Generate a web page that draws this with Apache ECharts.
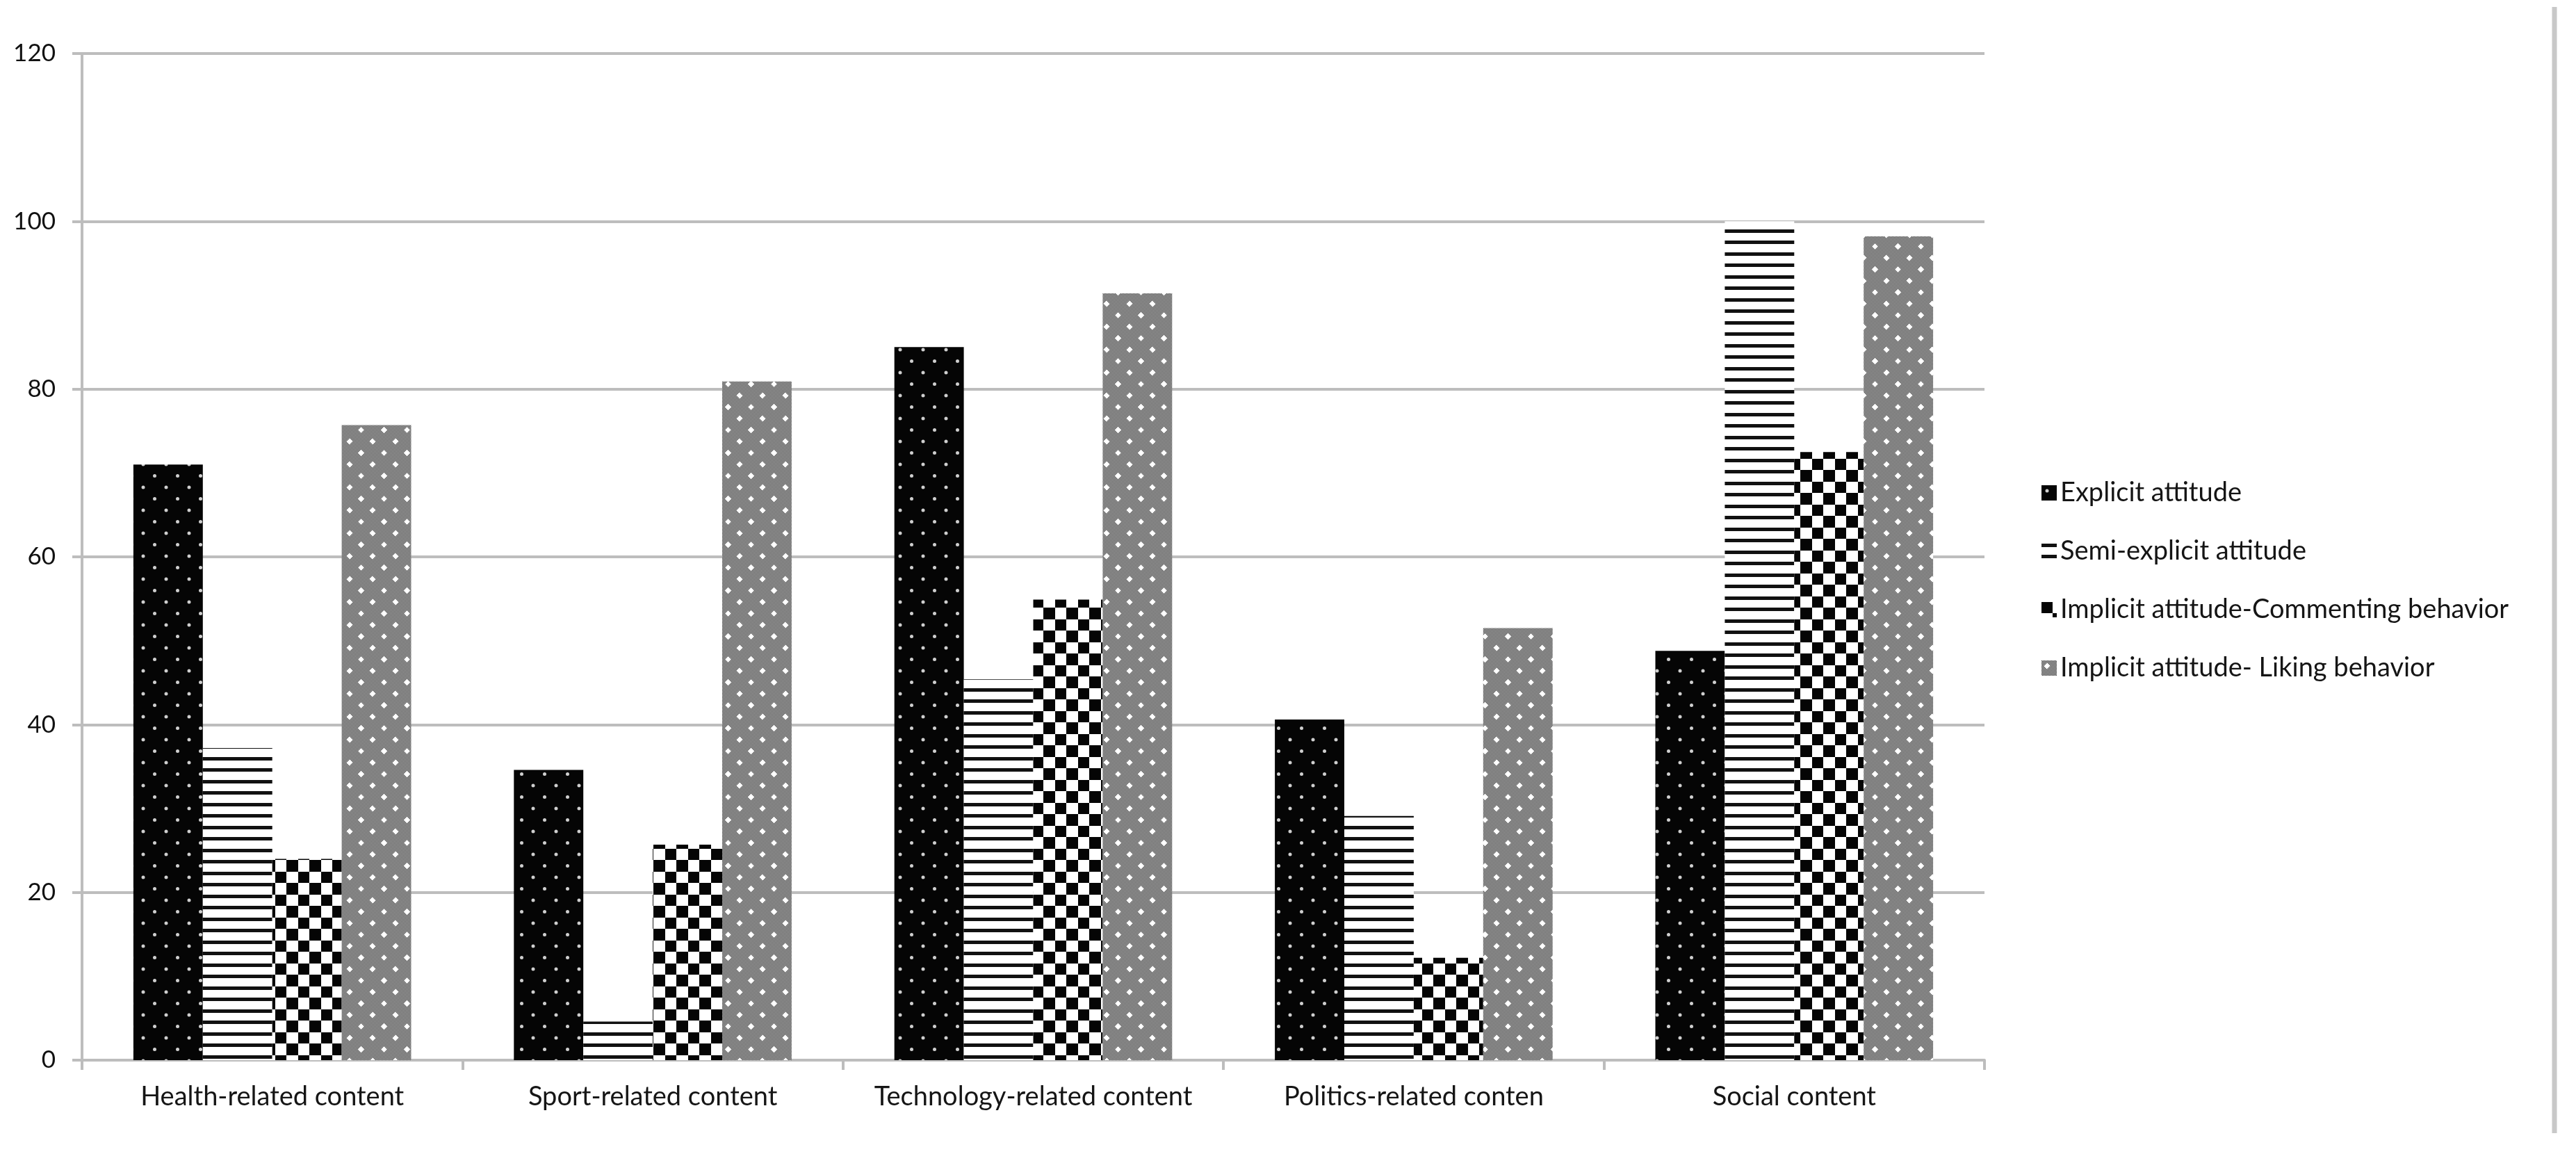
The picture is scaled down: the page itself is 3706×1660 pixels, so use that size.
<!DOCTYPE html>
<html>
<head>
<meta charset="utf-8">
<script src="https://cdn.jsdelivr.net/npm/echarts@6/dist/echarts.min.js"></script>
<style>
html,body{margin:0;padding:0;background:#ffffff;}
#chart{width:3706px;height:1660px;}
</style>
</head>
<body>
<div id="chart"></div>
<script>
// ---- data ----
const categories = ['Health-related content', 'Sport-related content', 'Technology-related content', 'Politics-related conten', 'Social content'];
const seriesNames = ['Explicit attitude', 'Semi-explicit attitude', 'Implicit attitude-Commenting behavior', 'Implicit attitude- Liking behavior'];
const explicitValues = [71.0, 34.6, 85.0, 40.6, 48.8];
const semiExplicitValues = [37.2, 4.6, 45.4, 29.1, 100.0];
const commentingValues = [24.0, 25.7, 54.9, 12.2, 72.5];
const likingValues = [75.7, 80.9, 91.4, 51.5, 98.2];
const yMin = 0, yMax = 120, yStep = 20;

// ---- fill patterns ----
function tile(w, h, draw) {
  const c = document.createElement('canvas');
  c.width = w; c.height = h;
  draw(c.getContext('2d'));
  return { image: c, repeat: 'repeat' };
}
const dotPattern = tile(33, 33, g => {
  g.fillStyle = '#050505'; g.fillRect(0, 0, 33, 33);
  g.fillStyle = '#cfcfcf';
  [[8, 8], [24.5, 24.5]].forEach(p => { g.beginPath(); g.arc(p[0], p[1], 2.5, 0, Math.PI * 2); g.fill(); });
});
const stripePattern = tile(33, 33, g => {
  g.fillStyle = '#ffffff'; g.fillRect(0, 0, 33, 33);
  g.fillStyle = '#111111';
  g.fillRect(0, 0, 33, 5); g.fillRect(0, 16, 33, 5);
});
const checkerPattern = tile(33, 33, g => {
  g.fillStyle = '#ffffff'; g.fillRect(0, 0, 33, 33);
  g.fillStyle = '#050505';
  g.fillRect(0, 0, 16, 16); g.fillRect(16, 16, 17, 17);
});
const likingPattern = tile(66, 66, g => {
  for (let y = 0; y < 66; y++) {
    for (let x = 0; x < 66; x++) {
      g.fillStyle = ((x + y) % 2 === 0) ? '#2e2e2e' : '#d6d6d6';
      g.fillRect(x, y, 1, 1);
    }
  }
  g.fillStyle = '#ffffff';
  const pts = [[8, 8], [41, 8], [8, 41], [41, 41], [24.5, 24.5], [57.5, 24.5], [24.5, 57.5], [57.5, 57.5]];
  pts.forEach(p => {
    g.beginPath();
    g.moveTo(p[0], p[1] - 4.5); g.lineTo(p[0] + 4.5, p[1]); g.lineTo(p[0], p[1] + 4.5); g.lineTo(p[0] - 4.5, p[1]);
    g.closePath(); g.fill();
  });
});

const FONT = 'Lato';
const TEXT = '#151515';
const AXIS_GRAY = '#bdbdbd';

const chart = echarts.init(document.getElementById('chart'), null, { renderer: 'canvas' });
const valueSets = [explicitValues, semiExplicitValues, commentingValues, likingValues];
const fills = [dotPattern, stripePattern, checkerPattern, likingPattern];

chart.setOption({
  backgroundColor: '#ffffff',
  animation: false,
  textStyle: { fontFamily: FONT },
  grid: { left: 118, right: 851, top: 77, bottom: 135, containLabel: false },
  legend: {
    orient: 'vertical',
    left: 2932,
    top: 684,
    itemWidth: 22,
    itemHeight: 22,
    itemGap: 44,
    icon: 'rect',
    data: seriesNames,
    textStyle: { fontFamily: FONT, fontSize: 38, color: TEXT, lineHeight: 40 }
  },
  xAxis: {
    type: 'category',
    data: categories,
    boundaryGap: true,
    axisLine: { show: true, lineStyle: { color: AXIS_GRAY, width: 4 } },
    axisTick: { show: true, alignWithLabel: false, length: 14, lineStyle: { color: AXIS_GRAY, width: 4 } },
    axisLabel: { fontFamily: FONT, fontSize: 38, color: TEXT, margin: 34, interval: 0 },
    splitLine: { show: false }
  },
  yAxis: {
    type: 'value',
    min: yMin,
    max: yMax,
    interval: yStep,
    axisLine: { show: true, lineStyle: { color: AXIS_GRAY, width: 4 } },
    axisTick: { show: true, length: 14, lineStyle: { color: AXIS_GRAY, width: 4 } },
    axisLabel: { fontFamily: FONT, fontSize: 35, color: '#111111', margin: 38 },
    splitLine: { show: true, lineStyle: { color: AXIS_GRAY, width: 4 } }
  },
  series: seriesNames.map((name, i) => ({
    name: name,
    type: 'bar',
    data: valueSets[i],
    barGap: '0%',
    barCategoryGap: '27%',
    itemStyle: { color: fills[i] },
    emphasis: { disabled: true }
  })),
  graphic: [{
    type: 'line',
    shape: { x1: 3675, y1: 10, x2: 3675, y2: 1630 },
    style: { stroke: '#c8c8c8', lineWidth: 7 },
    silent: true
  }]
});
</script>
</body>
</html>
